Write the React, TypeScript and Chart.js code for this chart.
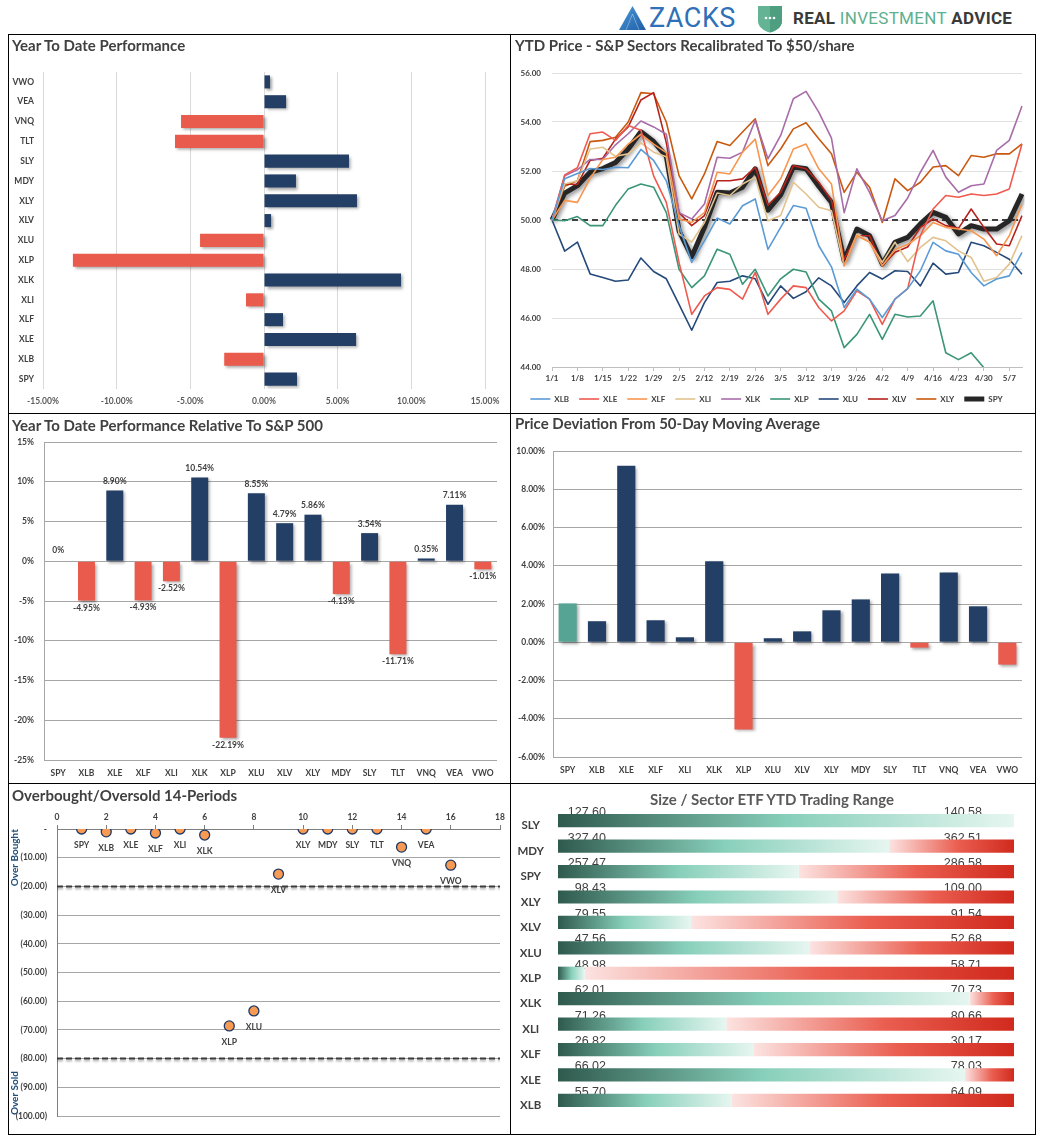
import React, { useEffect, useRef } from 'react';
import { Chart, registerables } from 'chart.js';

Chart.register(...registerables);

// ---------------- DATA ----------------
const ytdTickers = ['VWO', 'VEA', 'VNQ', 'TLT', 'SLY', 'MDY', 'XLY', 'XLV', 'XLU', 'XLP', 'XLK', 'XLI', 'XLF', 'XLE', 'XLB', 'SPY'];
const ytdValues = [0.41, 1.5, -5.63, -6.04, 5.77, 2.17, 6.31, 0.48, -4.34, -12.97, 9.3, -1.22, 1.29, 6.25, -2.7, 2.24];

const priceDates = ['1/1', '1/4', '1/8', '1/11', '1/15', '1/18', '1/22', '1/25', '1/29', '2/1', '2/5', '2/8', '2/12', '2/15', '2/19', '2/22', '2/26', '3/1', '3/5', '3/8', '3/12', '3/15', '3/19', '3/22', '3/26', '3/29', '4/2', '4/5', '4/9', '4/12', '4/16', '4/19', '4/23', '4/26', '4/30', '5/3', '5/7', '5/10'];
const xlbPrice = [50.0, 51.68, 51.9, 52.1, 52.06, 52.15, 52.13, 52.88, 52.43, 51.6, 49.77, 48.27, 49.15, 50.08, 49.84, 50.58, 50.86, 48.8, 49.7, 50.59, 50.48, 48.95, 48.09, 46.43, 47.18, 46.77, 46.02, 46.77, 47.2, 47.93, 49.09, 48.74, 48.6, 47.86, 47.31, 47.59, 47.72, 48.68];
const xlePrice = [50.0, 51.84, 52.13, 53.52, 53.59, 53.25, 53.86, 53.66, 51.8, 50.72, 48.27, 46.15, 46.9, 47.24, 47.17, 46.77, 47.86, 46.15, 46.77, 47.31, 47.24, 46.43, 45.88, 46.29, 47.11, 46.77, 45.74, 46.77, 47.2, 49.36, 50.45, 51.0, 50.93, 51.06, 51.0, 51.06, 51.27, 53.1];
const xlfPrice = [50.0, 50.8, 50.72, 51.7, 52.47, 52.56, 53.1, 53.5, 53.1, 52.75, 50.04, 49.9, 50.3, 51.95, 51.88, 52.77, 53.3, 51.0, 51.68, 52.9, 53.1, 52.09, 51.47, 48.13, 49.36, 49.1, 48.13, 48.8, 49.0, 49.36, 49.9, 49.7, 49.63, 49.56, 49.22, 48.54, 49.36, 50.65];
const xliPrice = [50.0, 51.47, 51.6, 52.9, 52.97, 52.6, 52.7, 53.15, 52.77, 52.58, 49.43, 49.1, 49.9, 51.1, 51.0, 51.47, 51.75, 49.97, 50.18, 51.54, 51.06, 50.52, 50.38, 48.13, 49.43, 49.1, 48.27, 49.09, 48.3, 48.88, 49.29, 49.15, 48.74, 48.47, 47.5, 47.65, 48.2, 49.36];
const xlkPrice = [50.0, 51.8, 52.05, 52.47, 52.47, 53.07, 53.52, 54.04, 53.8, 53.5, 50.3, 50.04, 50.65, 52.56, 52.52, 52.77, 54.07, 52.5, 53.45, 54.95, 55.25, 54.4, 53.34, 50.3, 52.09, 51.13, 49.97, 50.18, 50.9, 51.95, 52.84, 51.75, 51.13, 51.4, 51.47, 52.84, 53.25, 54.65];
const xlpPrice = [50.0, 49.97, 50.14, 49.77, 49.77, 50.6, 51.27, 51.47, 51.34, 50.3, 47.99, 47.24, 47.72, 48.81, 48.6, 47.38, 47.99, 46.9, 47.6, 47.99, 47.88, 46.77, 46.29, 44.79, 45.33, 46.15, 45.13, 46.15, 46.04, 46.08, 46.7, 44.58, 44.3, 44.58, 43.97, null, null, null];
const xluPrice = [50.0, 48.73, 49.1, 47.8, 47.65, 47.5, 47.55, 48.45, 47.9, 47.6, 46.56, 45.5, 46.63, 47.45, 47.5, 47.72, 47.6, 46.56, 47.31, 46.8, 47.07, 47.64, 47.31, 46.63, 47.31, 47.86, 47.59, 47.93, 47.9, 47.31, 48.24, 47.79, 47.86, 49.09, 48.95, 48.68, 48.4, 47.79];
const xlvPrice = [50.0, 51.47, 51.45, 52.43, 52.52, 53.3, 53.8, 54.9, 55.2, 53.15, 50.3, 49.77, 50.18, 51.6, 51.6, 51.68, 52.15, 50.6, 51.13, 52.22, 52.09, 51.54, 50.8, 48.4, 49.36, 49.36, 48.13, 48.68, 48.9, 49.7, 50.04, 49.77, 49.66, 50.45, 49.7, 49.02, 48.95, 50.18];
const xlyPrice = [50.0, 51.38, 51.6, 53.2, 53.25, 53.38, 54.0, 55.2, 55.15, 54.0, 51.81, 50.86, 51.88, 53.2, 53.04, 53.59, 54.13, 52.22, 52.9, 53.72, 53.97, 53.32, 52.7, 51.13, 51.95, 51.34, 49.9, 51.68, 51.2, 51.54, 52.16, 52.22, 51.81, 52.63, 52.56, 52.7, 52.7, 53.11];
const spyPrice = [50.0, 51.1, 51.4, 51.95, 52.1, 52.35, 52.9, 53.6, 53.2, 52.6, 49.56, 48.5, 49.7, 51.13, 51.1, 51.34, 52.09, 50.4, 51.02, 52.16, 52.09, 51.38, 50.72, 48.34, 49.63, 49.36, 48.2, 49.09, 49.29, 49.84, 50.31, 50.11, 49.43, 49.77, 49.63, 49.63, 49.97, 51.06];
const priceBase = 50;

const relTickers = ['SPY', 'XLB', 'XLE', 'XLF', 'XLI', 'XLK', 'XLP', 'XLU', 'XLV', 'XLY', 'MDY', 'SLY', 'TLT', 'VNQ', 'VEA', 'VWO'];
const relValues = [0, -4.95, 8.9, -4.93, -2.52, 10.54, -22.19, 8.55, 4.79, 5.86, -4.13, 3.54, -11.71, 0.35, 7.11, -1.01];

const devTickers = ['SPY', 'XLB', 'XLE', 'XLF', 'XLI', 'XLK', 'XLP', 'XLU', 'XLV', 'XLY', 'MDY', 'SLY', 'TLT', 'VNQ', 'VEA', 'VWO'];
const devValues = [2.03, 1.1, 9.23, 1.15, 0.26, 4.23, -4.56, 0.21, 0.57, 1.67, 2.24, 3.6, -0.28, 3.65, 1.88, -1.17];

const obosTickers = ['SPY', 'XLB', 'XLE', 'XLF', 'XLI', 'XLK', 'XLP', 'XLU', 'XLV', 'XLY', 'MDY', 'SLY', 'TLT', 'VNQ', 'VEA', 'VWO'];
const obosX = [1, 2, 3, 4, 5, 6, 7, 8, 9, 10, 11, 12, 13, 14, 15, 16];
const obosY = [0, -1.0, 0, -1.4, 0, -2.1, -68.6, -63.4, -15.7, 0, 0, 0, 0, -6.3, 0, -12.6];
const obosBands = [-20, -80];

const rangeTickers = ['SLY', 'MDY', 'SPY', 'XLY', 'XLV', 'XLU', 'XLP', 'XLK', 'XLI', 'XLF', 'XLE', 'XLB'];
const rangeLow = [127.6, 327.4, 257.47, 98.43, 79.55, 47.56, 48.98, 62.01, 71.26, 26.82, 66.02, 55.7];
const rangeHigh = [140.58, 362.51, 286.58, 109.0, 91.54, 52.68, 58.71, 70.73, 80.66, 30.17, 78.03, 64.09];
const rangeLast = [140.58, 352.89, 272.84, 104.9, 83.05, 50.39, 49.55, 69.88, 74.73, 28.26, 76.74, 58.9];

// ---------------- STYLE ----------------
const FONT = 'Lato, "Open Sans", Arial, sans-serif';
const NAVY = '#243F66';
const CORAL = '#E95B4D';
const TXT = '#404040';
const f = (size: number, weight: any = 'bold') => ({ family: FONT, size, weight });
const base = { responsive: false, maintainAspectRatio: false, animation: false, devicePixelRatio: 1, events: [] as any[] };
const noGrid = { display: false, drawTicks: false, tickLength: 0 };

const barShadow = {
  id: 'barShadow',
  beforeDatasetDraw(chart: any) {
    const c = chart.ctx;
    c.save();
    c.shadowColor = 'rgba(0,0,0,0.35)';
    c.shadowBlur = 3;
    c.shadowOffsetX = 2;
    c.shadowOffsetY = 2;
  },
  afterDatasetDraw(chart: any) {
    chart.ctx.restore();
  },
};

// ---------------- CHART BUILDERS ----------------
function buildYtd(): any {
  return {
    type: 'bar',
    data: {
      labels: ytdTickers,
      datasets: [{ data: ytdValues, backgroundColor: ytdValues.map((v) => (v < 0 ? CORAL : NAVY)), barPercentage: 0.66, categoryPercentage: 1, borderWidth: 0 }],
    },
    options: {
      ...base,
      indexAxis: 'y',
      layout: { padding: { left: 0, top: 37, right: 25, bottom: 0 } },
      plugins: { legend: { display: false }, tooltip: { enabled: false } },
      scales: {
        x: {
          min: -15, max: 15,
          ticks: { stepSize: 5, callback: (v: any) => Number(v).toFixed(2) + '%', font: f(8.5), color: '#595959', padding: 7, maxRotation: 0 },
          grid: { color: '#D9D9D9', drawTicks: false },
          border: { display: false },
          afterFit: (s: any) => { s.height = 24; },
        },
        y: {
          ticks: { font: f(8.5), color: TXT, padding: 9 },
          grid: noGrid,
          border: { display: false },
          afterFit: (s: any) => { s.width = 34; },
        },
      },
    },
    plugins: [barShadow],
  };
}

const sectorSeries = [
  { name: 'XLB', data: xlbPrice, color: '#5B9BD5', width: 1.6 },
  { name: 'XLE', data: xlePrice, color: '#EE5A4E', width: 1.6 },
  { name: 'XLF', data: xlfPrice, color: '#F7964F', width: 1.6 },
  { name: 'XLI', data: xliPrice, color: '#E2C28E', width: 1.6 },
  { name: 'XLK', data: xlkPrice, color: '#A86CA9', width: 1.6 },
  { name: 'XLP', data: xlpPrice, color: '#3A9579', width: 1.6 },
  { name: 'XLU', data: xluPrice, color: '#24497A', width: 1.6 },
  { name: 'XLV', data: xlvPrice, color: '#B5231B', width: 1.6 },
  { name: 'XLY', data: xlyPrice, color: '#C8590F', width: 1.6 },
  { name: 'SPY', data: spyPrice, color: '#262626', width: 5 },
];

function buildPrice(): any {
  const spyIndex = sectorSeries.length - 1;
  const refLine = {
    id: 'refLine',
    beforeDatasetDraw(chart: any, args: any) {
      if (args.index !== spyIndex) return;
      const c = chart.ctx;
      const y = chart.scales.y.getPixelForValue(priceBase);
      c.save();
      c.setLineDash([6, 4]);
      c.strokeStyle = '#404040';
      c.lineWidth = 2;
      c.beginPath();
      c.moveTo(chart.chartArea.left, y);
      c.lineTo(chart.chartArea.right, y);
      c.stroke();
      c.restore();
      c.save();
      c.shadowColor = 'rgba(0,0,0,0.45)';
      c.shadowBlur = 4;
      c.shadowOffsetX = 2;
      c.shadowOffsetY = 2;
    },
    afterDatasetDraw(chart: any, args: any) {
      if (args.index === spyIndex) chart.ctx.restore();
    },
  };
  return {
    type: 'line',
    data: {
      labels: priceDates,
      datasets: sectorSeries.map((s) => ({
        label: s.name, data: s.data, borderColor: s.color, backgroundColor: s.color, borderWidth: s.width,
        pointRadius: 0, tension: 0, fill: false, borderJoinStyle: 'round', spanGaps: false,
      })),
    },
    options: {
      ...base,
      layout: { padding: { left: 0, top: 38, right: 13, bottom: 0 } },
      plugins: {
        tooltip: { enabled: false },
        legend: {
          position: 'bottom', maxHeight: 29,
          labels: { usePointStyle: true, pointStyle: 'line', pointStyleWidth: 20, font: f(8), color: TXT, padding: 10 },
        },
      },
      scales: {
        x: {
          type: 'category', offset: false,
          ticks: { autoSkip: false, maxRotation: 0, minRotation: 0, callback: (_v: any, i: number) => (i % 2 === 0 ? priceDates[i] : ''), font: f(8), color: TXT, padding: 3 },
          grid: { drawOnChartArea: false, tickLength: 4, color: (c: any) => (c.index % 2 === 0 ? '#BFBFBF' : 'rgba(0,0,0,0)') },
          border: { color: '#BFBFBF' },
          afterFit: (s: any) => { s.height = 18; },
        },
        y: {
          min: 44, max: 56,
          ticks: { stepSize: 2, callback: (v: any) => Number(v).toFixed(2), font: f(8), color: TXT, padding: 11 },
          grid: { color: '#E0E0E0', drawTicks: false },
          border: { display: false },
          afterFit: (s: any) => { s.width = 41; },
        },
      },
    },
    plugins: [refLine],
  };
}

function buildRel(): any {
  const labelPlugin = {
    id: 'relLabels',
    afterDatasetsDraw(chart: any) {
      const c = chart.ctx;
      const meta = chart.getDatasetMeta(0);
      c.save();
      c.font = `bold 8.5px ${FONT}`;
      c.fillStyle = TXT;
      c.textAlign = 'center';
      meta.data.forEach((el: any, i: number) => {
        const v = relValues[i];
        const txt = v === 0 ? '0%' : v.toFixed(2) + '%';
        if (v > 0) { c.textBaseline = 'bottom'; c.fillText(txt, el.x, el.y - 5); }
        else if (v === 0) { c.textBaseline = 'bottom'; c.fillText(txt, el.x, el.y - 7); }
        else { c.textBaseline = 'top'; c.fillText(txt, el.x, el.y + 3); }
      });
      c.restore();
    },
  };
  return {
    type: 'bar',
    data: {
      labels: relTickers,
      datasets: [{ data: relValues, backgroundColor: relValues.map((v) => (v < 0 ? CORAL : NAVY)), barPercentage: 0.6, categoryPercentage: 1, borderWidth: 0 }],
    },
    options: {
      ...base,
      layout: { padding: { left: 0, top: 28, right: 13, bottom: 0 } },
      plugins: { legend: { display: false }, tooltip: { enabled: false } },
      scales: {
        x: {
          ticks: { font: f(8.5), color: TXT, padding: 8 },
          grid: noGrid,
          border: { display: false },
          afterFit: (s: any) => { s.height = 23; },
        },
        y: {
          min: -25, max: 15,
          ticks: { stepSize: 5, callback: (v: any) => v + '%', font: f(8.5), color: TXT, padding: 10 },
          grid: { color: '#A6A6A6', drawTicks: false },
          border: { display: true, color: '#A6A6A6' },
          afterFit: (s: any) => { s.width = 35; },
        },
      },
    },
    plugins: [barShadow, labelPlugin],
  };
}

function buildDev(): any {
  return {
    type: 'bar',
    data: {
      labels: devTickers,
      datasets: [{
        data: devValues,
        backgroundColor: devValues.map((v, i) => (i === 0 ? '#56A594' : v < 0 ? CORAL : NAVY)),
        barPercentage: 0.62, categoryPercentage: 1, borderWidth: 0,
      }],
    },
    options: {
      ...base,
      layout: { padding: { left: 0, top: 37, right: 13, bottom: 0 } },
      plugins: { legend: { display: false }, tooltip: { enabled: false } },
      scales: {
        x: {
          ticks: { font: f(8.5), color: TXT, padding: 8 },
          grid: noGrid,
          border: { display: false },
          afterFit: (s: any) => { s.height = 26; },
        },
        y: {
          min: -6, max: 10,
          ticks: { stepSize: 2, callback: (v: any) => Number(v).toFixed(2) + '%', font: f(8.5), color: TXT, padding: 8 },
          grid: { color: '#A6A6A6', drawTicks: false },
          border: { display: true, color: '#A6A6A6' },
          afterFit: (s: any) => { s.width = 42; },
        },
      },
    },
    plugins: [barShadow],
  };
}

function buildObos(): any {
  const pointIndex = obosBands.length;
  const labels = {
    id: 'obosLabels',
    afterDatasetsDraw(chart: any) {
      const c = chart.ctx;
      const meta = chart.getDatasetMeta(pointIndex);
      c.save();
      c.font = `bold 8.5px ${FONT}`;
      c.fillStyle = TXT;
      c.textAlign = 'center';
      c.textBaseline = 'middle';
      meta.data.forEach((el: any, i: number) => {
        c.fillText(obosTickers[i], el.x, el.y + 16);
      });
      const ys = chart.scales.y;
      c.fillStyle = '#1F4E79';
      c.font = `bold 10px ${FONT}`;
      const drawRot = (t: string, y: number) => {
        c.save();
        c.translate(6, y);
        c.rotate(-Math.PI / 2);
        c.fillText(t, 0, 0);
        c.restore();
      };
      drawRot('Over Bought', (ys.getPixelForValue(0) + ys.getPixelForValue(-20)) / 2);
      drawRot('Over Sold', (ys.getPixelForValue(-84) + ys.getPixelForValue(-100)) / 2);
      c.restore();
    },
  };
  const shadow = {
    id: 'bandShadow',
    beforeDatasetDraw(chart: any, args: any) {
      if (args.index >= pointIndex) return;
      const c = chart.ctx;
      c.save();
      c.shadowColor = 'rgba(0,0,0,0.3)';
      c.shadowBlur = 2;
      c.shadowOffsetY = 2;
    },
    afterDatasetDraw(chart: any, args: any) {
      if (args.index < pointIndex) chart.ctx.restore();
    },
  };
  return {
    type: 'scatter',
    data: {
      datasets: [
        ...obosBands.map((b) => ({
          data: [{ x: 0, y: b }, { x: 18, y: b }], showLine: true, pointRadius: 0,
          borderColor: '#3A3A3A', borderWidth: 2, borderDash: [6, 3],
        })),
        {
          data: obosX.map((x, i) => ({ x, y: obosY[i] })),
          pointRadius: 5, pointBackgroundColor: '#F79A54', pointBorderColor: '#203864', pointBorderWidth: 1.3,
          showLine: false,
        },
      ],
    },
    options: {
      ...base,
      layout: { padding: { left: 0, top: 0, right: 10, bottom: 18 } },
      plugins: { legend: { display: false }, tooltip: { enabled: false } },
      scales: {
        x: {
          type: 'linear', position: 'top', min: 0, max: 18,
          ticks: { stepSize: 2, font: f(8.5), color: TXT, padding: 3 },
          grid: { drawOnChartArea: false, tickLength: 4, color: '#7F7F7F' },
          border: { display: true, color: '#7F7F7F' },
          afterFit: (s: any) => { s.height = 45; },
        },
        y: {
          min: -100, max: 0,
          ticks: { stepSize: 10, callback: (v: any) => (Number(v) === 0 ? '-' : '(' + Math.abs(Number(v)).toFixed(2) + ')'), font: f(8.5), color: TXT, padding: 10 },
          grid: { color: '#A6A6A6', drawTicks: false },
          border: { display: true, color: '#7F7F7F' },
          afterFit: (s: any) => { s.width = 48; },
        },
      },
    },
    plugins: [shadow, labels],
  };
}

const GREEN_STOPS: [number, string][] = [[0, '#2F5A4E'], [0.5, '#87CFBA'], [1, '#E6F6F0']];
const RED_STOPS: [number, string][] = [[0, '#FCE3E1'], [0.55, '#EA5E50'], [1, '#D02A1D']];

function gradFor(ctx: any, stops: [number, string][]) {
  const chart = ctx.chart;
  if (ctx.type !== 'data' || !chart.chartArea || !chart.scales.x) return stops[1][1];
  const r = ctx.raw as number[];
  const xs = chart.scales.x;
  const x0 = xs.getPixelForValue(r[0]);
  const x1 = xs.getPixelForValue(r[1]);
  if (x1 - x0 < 0.5) return stops[stops.length - 1][1];
  const g = chart.ctx.createLinearGradient(x0, 0, x1, 0);
  stops.forEach(([o, col]) => g.addColorStop(o, col));
  return g;
}

function buildRange(): any {
  const rangePct = rangeTickers.map((_, i) => ((rangeLast[i] - rangeLow[i]) / (rangeHigh[i] - rangeLow[i])) * 100);
  const valueLabels = {
    id: 'rangeLabels',
    beforeDatasetsDraw(chart: any) {
      const c = chart.ctx;
      const meta = chart.getDatasetMeta(0);
      const { left, right } = chart.chartArea;
      c.save();
      c.font = `12.5px "Liberation Sans", Arial, sans-serif`;
      c.fillStyle = '#3F3F3F';
      c.textAlign = 'right';
      c.textBaseline = 'alphabetic';
      meta.data.forEach((el: any, i: number) => {
        const top = el.y - el.height / 2;
        c.fillText(rangeLow[i].toFixed(2), left + 48, top + 2);
        c.fillText(rangeHigh[i].toFixed(2), right - 32, top + 2);
      });
      c.restore();
    },
  };
  return {
    type: 'bar',
    data: {
      labels: rangeTickers,
      datasets: [
        { data: rangePct.map((p) => [0, p]), backgroundColor: (c: any) => gradFor(c, GREEN_STOPS), grouped: false, barPercentage: 0.52, categoryPercentage: 1, borderWidth: 0, borderSkipped: false },
        { data: rangePct.map((p) => [p, 100]), backgroundColor: (c: any) => gradFor(c, RED_STOPS), grouped: false, barPercentage: 0.52, categoryPercentage: 1, borderWidth: 0, borderSkipped: false },
      ],
    },
    options: {
      ...base,
      indexAxis: 'y',
      layout: { padding: { left: 0, top: 24, right: 21, bottom: 0 } },
      plugins: { legend: { display: false }, tooltip: { enabled: false } },
      scales: {
        x: { display: false, min: 0, max: 100 },
        y: {
          ticks: { font: f(11.5), color: TXT, crossAlign: 'center', padding: 14, labelOffset: 5 },
          grid: noGrid,
          border: { display: false },
          afterFit: (s: any) => { s.width = 47; },
        },
      },
    },
    plugins: [valueLabels],
  };
}

// ---------------- COMPONENTS ----------------
function ChartCanvas({ w, h, build }: { w: number; h: number; build: () => any }) {
  const ref = useRef<HTMLCanvasElement>(null);
  useEffect(() => {
    const chart = new Chart(ref.current as HTMLCanvasElement, build());
    return () => chart.destroy();
  }, []);
  return <canvas ref={ref} width={w} height={h} style={{ position: 'absolute', left: 0, top: 0, width: w, height: h, display: 'block' }} />;
}

function Panel({ x, y, w, h, title, titleStyle, build }: any) {
  const iw = w - 2;
  const ih = h - 2;
  return (
    <div style={{ position: 'absolute', left: x, top: y, width: w, height: h, border: '1px solid #000', boxSizing: 'border-box', background: '#fff', overflow: 'hidden' }}>
      <ChartCanvas w={iw} h={ih} build={build} />
      <div style={{ position: 'absolute', fontFamily: FONT, fontWeight: 700, fontSize: 15, lineHeight: '18px', color: '#404040', whiteSpace: 'nowrap', ...titleStyle }}>{title}</div>
    </div>
  );
}

function Header() {
  return (
    <div style={{ position: 'absolute', left: 0, top: 0, width: 1047, height: 34 }}>
      <svg style={{ position: 'absolute', left: 619, top: 6 }} width="27" height="24" viewBox="0 0 27 24">
        <defs>
          <linearGradient id="zg" x1="0" y1="0" x2="1" y2="1">
            <stop offset="0" stopColor="#4C9BD9" />
            <stop offset="1" stopColor="#1F5CA6" />
          </linearGradient>
        </defs>
        <polygon points="13.5,0 27,24 0,24" fill="url(#zg)" />
        <polyline points="7,24 13.5,8 20,24" fill="none" stroke="#ffffff" strokeOpacity="0.35" strokeWidth="1" />
      </svg>
      <div style={{ position: 'absolute', left: 649, top: 3, fontFamily: 'Roboto, sans-serif', fontSize: 27, lineHeight: '30px', color: '#2F70B8', letterSpacing: 0.5 }}>ZACKS</div>
      <svg style={{ position: 'absolute', left: 757, top: 5 }} width="26" height="28" viewBox="0 0 26 28">
        <path d="M1,1 H25 V16 C25,22 19,26 13,27.5 C7,26 1,22 1,16 Z" fill="#63B394" />
        <path d="M13,1 H25 V16 C25,22 19,26 13,27.5 Z" fill="#4E9E80" />
        <circle cx="9" cy="13" r="1.3" fill="#fff" />
        <circle cx="13" cy="13" r="1.3" fill="#fff" />
        <circle cx="17" cy="13" r="1.3" fill="#fff" />
      </svg>
      <div style={{ position: 'absolute', left: 793, top: 7, fontFamily: 'Roboto, sans-serif', fontSize: 17, lineHeight: '22px', color: '#3A3A3A', fontWeight: 700, whiteSpace: 'nowrap', letterSpacing: 0.3 }}>
        REAL <span style={{ color: '#5DB08F', fontWeight: 400 }}>INVESTMENT</span> ADVICE
      </div>
    </div>
  );
}

export default function App() {
  return (
    <div style={{ position: 'absolute', left: 0, top: 0, width: 1047, height: 1147, background: '#fff' }}>
      <Header />
      <Panel x={8} y={34} w={503} h={380} title="Year To Date Performance" titleStyle={{ left: 3, top: 1 }} build={buildYtd} />
      <Panel x={510} y={34} w={526} h={380} title="YTD Price - S&P Sectors Recalibrated To $50/share" titleStyle={{ left: 4, top: 1 }} build={buildPrice} />
      <Panel x={8} y={413} w={503} h={371} title="Year To Date Performance Relative To S&P 500" titleStyle={{ left: 3, top: 2 }} build={buildRel} />
      <Panel x={510} y={413} w={526} h={371} title="Price Deviation From 50-Day Moving Average" titleStyle={{ left: 4, top: 0 }} build={buildDev} />
      <Panel x={8} y={783} w={503} h={352} title="Overbought/Oversold 14-Periods" titleStyle={{ left: 3, top: 2 }} build={buildObos} />
      <Panel x={510} y={783} w={526} h={352} title="Size / Sector ETF YTD Trading Range" titleStyle={{ left: 0, width: 522, textAlign: 'center', top: 6, color: '#595959' }} build={buildRange} />
    </div>
  );
}
